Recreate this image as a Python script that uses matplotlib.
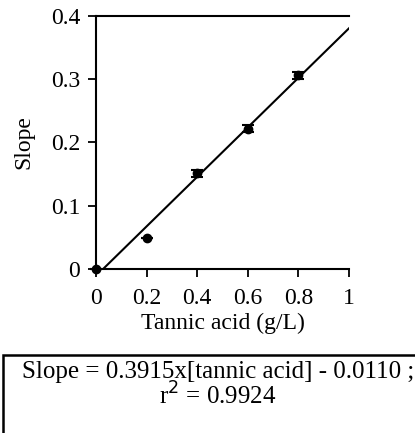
import numpy as np
import matplotlib
matplotlib.use("Agg")
import matplotlib.pyplot as plt
from matplotlib.patches import Rectangle

# data
tannic = [0.0, 0.2, 0.4, 0.6, 0.8]
slope = [0.0, 0.049, 0.151, 0.222, 0.306]
slope_err = [0.0, 0.0, 0.006, 0.006, 0.006]
fit_a = 0.3915
fit_b = -0.0110

plt.rcParams['font.family'] = ['Liberation Serif', 'DejaVu Serif']

fig = plt.figure(figsize=(4.15, 4.33), dpi=100)
ax = fig.add_axes([0.2313, 0.3788, 0.6096, 0.5843])

# fitted line
x0 = -fit_b / fit_a
xf = np.array([x0, 1.0])
ax.plot(xf, fit_a * xf + fit_b, color='k', lw=1.5)

ax.errorbar(tannic, slope, yerr=slope_err, fmt='o', color='k',
            ms=6, capsize=4, elinewidth=1.3, capthick=1.5, clip_on=False, zorder=3)

ax.set_xlim(0, 1)
ax.set_ylim(0, 0.4)
ax.set_xticks([0, 0.2, 0.4, 0.6, 0.8, 1])
ax.set_xticklabels(['0', '0.2', '0.4', '0.6', '0.8', '1'])
ax.set_yticks([0, 0.1, 0.2, 0.3, 0.4])
ax.set_yticklabels(['0', '0.1', '0.2', '0.3', '0.4'])
ax.tick_params(direction='out', length=5.5, width=1.3, labelsize=17)
ax.tick_params(axis='x', pad=8)
ax.tick_params(axis='y', pad=6)
ax.spines['right'].set_visible(False)
for s in ['left', 'bottom', 'top']:
    ax.spines[s].set_linewidth(1.5)

ax.set_xlabel('Tannic acid (g/L)', fontsize=17, labelpad=3)
ax.set_ylabel('Slope', fontsize=17, labelpad=12)

# equation box
fig.patches.append(Rectangle((0.007, -0.1), 1.1, 0.28, transform=fig.transFigure,
                             fill=False, edgecolor='k', lw=1.8))
fig.text(0.525, 0.141, 'Slope = 0.3915x[tannic acid] - 0.0110 ;', ha='center', va='center', fontsize=18)
fig.text(0.525, 0.086, 'r$^2$ = 0.9924', ha='center', va='center', fontsize=18)

fig.savefig('out.png', dpi=100)
